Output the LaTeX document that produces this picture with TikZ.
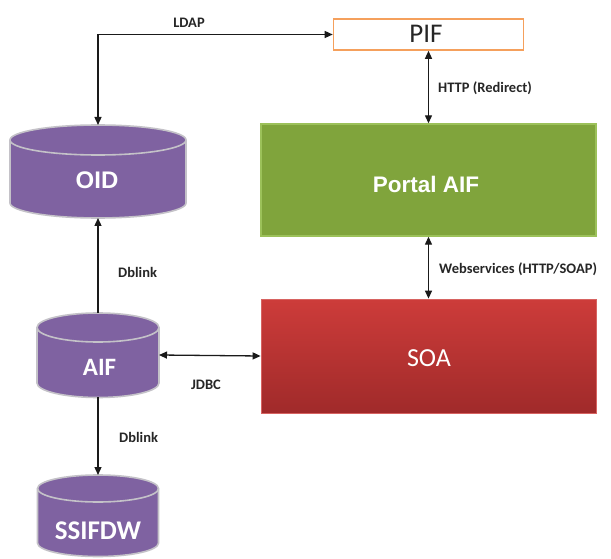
\documentclass[tikz,border=0pt]{standalone}
\usepackage{fontspec}
\setmainfont{Carlito}
\newfontfamily\arialfont{Liberation Sans}
\usetikzlibrary{arrows.meta,calc}

\definecolor{dbpurple}{HTML}{7F62A1}
\definecolor{dbrimgray}{HTML}{C4C2C8}
\definecolor{portalgreen}{HTML}{80A43C}
\definecolor{portalrim}{HTML}{9CC15A}
\definecolor{soatop}{HTML}{CD3C3A}
\definecolor{soabottom}{HTML}{A02A2A}
\definecolor{pifrim}{HTML}{F5A05C}
\definecolor{linkink}{HTML}{1A1A1A}
\definecolor{labelink}{HTML}{262626}

% database cylinder: centre x, top-ellipse centre y, bottom-ellipse centre y, x radius, y radius
\newcommand\dbcylinder[5]{%
  \path[dbbody] (#1-#4,#2) -- (#1-#4,#3)
    arc[start angle=180,end angle=0,x radius=#4,y radius=#5]
    -- (#1+#4,#2)
    arc[start angle=0,end angle=-180,x radius=#4,y radius=#5] -- cycle;
  \draw[dbrim] (#1-#4,#2) arc[start angle=180,end angle=0,x radius=#4,y radius=#5];%
}

\begin{document}
\begin{tikzpicture}[x=1pt,y=-1pt,
  dbbody/.style={fill=dbpurple,draw=dbrimgray,line width=1.6pt},
  dbrim/.style={draw=dbrimgray,line width=1.6pt},
  frame/.style={inner sep=0pt,outer sep=0pt},
  dbtext/.style={text=white,font=\bfseries\fontsize{25}{25}\selectfont,inner sep=0pt},
  linklabel/.style={text=labelink,font=\bfseries\fontsize{14.5}{15}\selectfont,inner sep=0pt},
  biarrow/.style={draw=linkink,line width=1.3pt,
    {Triangle[length=8pt,width=7pt]}-{Triangle[length=8pt,width=7pt]}},
  onearrow/.style={draw=linkink,line width=1.3pt,-{Triangle[length=8pt,width=7pt]}}
]
\useasboundingbox (0,0) rectangle (611,559);
\fill[white] (0,0) rectangle (611,559);

% ---- service boxes ----
\node[draw=pifrim,fill=white,line width=1.6pt,minimum width=190,minimum height=31,inner sep=0pt]
  (pif) at (428.5,34.5) {};
\node[inner sep=0pt,font=\fontsize{27}{27}\selectfont,text=black!85] (piflbl) at (426,34) {PIF};

\node[draw=portalrim,fill=portalgreen,line width=1.4pt,minimum width=335,minimum height=112,inner sep=0pt]
  (portal) at (428.5,180) {};
\node[inner sep=0pt,text=white,font=\arialfont\bfseries\fontsize{22.5}{23}\selectfont] (portallbl) at (426,184) {Portal AIF};

\node[draw=soatop!80!white,top color=soatop,bottom color=soabottom,line width=0.8pt,
  minimum width=335,minimum height=114,inner sep=0pt] (soa) at (428.5,356) {};
\node[inner sep=0pt,text=white,font=\fontsize{26}{26}\selectfont] (soalbl) at (429,358) {SOA};

% ---- databases ----
\dbcylinder{98}{140}{203}{88}{15}
\node[frame,minimum width=176,minimum height=93] (oid) at (98,171.5) {};
\node[dbtext,font=\arialfont\bfseries\fontsize{24}{24}\selectfont] (oidlbl) at (97,180) {OID};

\dbcylinder{98}{327.5}{383}{61}{14.5}
\node[frame,minimum width=122,minimum height=84] (aif) at (98,355) {};
\node[dbtext] (aiflbl) at (99.5,367) {AIF};

\dbcylinder{98}{488.5}{543}{60.5}{13.5}
\node[frame,minimum width=121,minimum height=82] (ssifdw) at (98,516) {};
\node[dbtext,font=\bfseries\fontsize{27}{27}\selectfont] (ssifdwlbl) at (98,531) {SSIFDW};

% ---- connectors ----
\draw[biarrow] (oid.north) |- (pif.west);
\draw[biarrow] (pif.south) -- (portal.north);
\draw[biarrow] (portal.south) -- (soa.north);
\draw[onearrow] (aif.north) -- (oid.south);
\draw[biarrow] (aif.east) -- (soa.west);
\draw[onearrow] (aif.south) -- (ssifdw.north);

% ---- connector labels ----
\node[linklabel,anchor=base] (ldaplbl) at (189,28) {LDAP};
\node[linklabel,anchor=base west] (httplbl) at (438,93) {HTTP (Redirect)};
\node[linklabel,anchor=base west] (wslbl) at (439,273) {Webservices (HTTP/SOAP)};
\node[linklabel,anchor=base west] (dbupper) at (118,277) {Dblink};
\node[linklabel,anchor=base] (jdbclbl) at (206,389) {JDBC};
\node[linklabel,anchor=base west] (dblower) at (119,442) {Dblink};
\end{tikzpicture}
\end{document}
